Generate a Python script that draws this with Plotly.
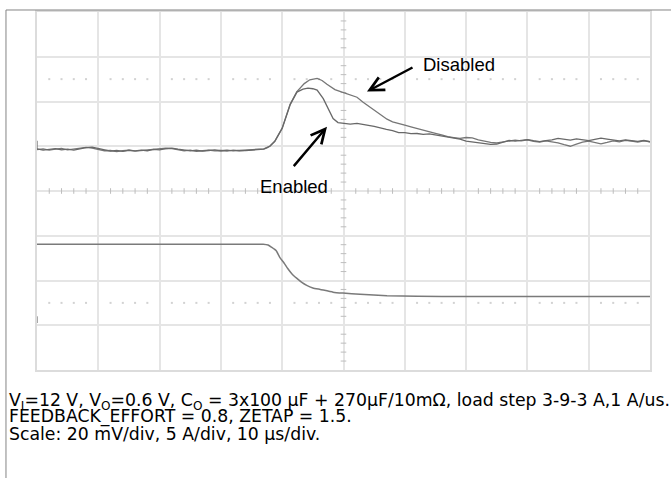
import plotly.graph_objects as go

# ---------------- data ----------------
# time in microseconds (10 us/div, trigger at centre), output deviation in mV (20 mV/div)
base_t = list(range(-50, -13))  # regular 1 us samples of the pre-step baseline
enabled_base = [0.3, -0.2, 0.1, 0.4, -0.1, 0.2, -0.2, 0.4, 0.9, 1.1, 0.5, -0.3, -0.7, -0.4, -0.8,
                -0.3, -0.6, -0.2, -0.5, 0.1, -0.1, 0.4, 0.7, 0.2, -0.3, -0.6, -0.3, -0.7, -0.4, -0.1,
                -0.5, -0.2, -0.6, -0.3, -0.4, -0.1, 0.0]
disabled_base = [0.0, 0.3, -0.2, 0.2, 0.5, -0.1, 0.3, 0.6, 1.0, 0.7, 0.2, -0.5, -0.4, -0.9, -0.5,
                 -0.2, -0.7, -0.4, -0.1, 0.2, 0.3, 0.6, 0.4, -0.1, -0.5, -0.2, -0.8, -0.5, -0.2, -0.6,
                 -0.4, -0.7, -0.2, -0.5, -0.2, 0.0, 0.2]

enabled_tr_t = [-13.0, -12.5, -12.0, -11.2, -10.0, -8.7, -7.6, -6.6, -5.8, -5.0, -4.3, -3.3, -2.5,
                -1.7, -0.9, 0.0, 1.1, 2.2, 3.2, 4.3, 5.0, 6.0, 7.0, 8.0, 9.0, 10.0, 11.0, 12.0, 13.0,
                14.0, 15.0, 16.0, 17.0, 18.0, 19.0, 20.0, 21.0, 22.0, 23.0, 24.0, 25.0, 26.0]
enabled_tr_v = [0.2, 0.8, 1.5, 3.7, 9.5, 20.1, 25.7, 27.0, 27.5, 27.2, 26.6, 22.8, 18.4,
                13.9, 12.1, 11.7, 11.4, 11.7, 11.1, 10.7, 10.4, 9.6, 9.0, 8.5, 7.6, 7.6, 7.1, 7.2, 6.8,
                7.0, 6.5, 6.1, 5.7, 5.0, 4.7, 3.8, 3.4, 2.9, 2.5, 2.3, 2.5, 3.2]

disabled_tr_t = [-13.0, -12.5, -12.0, -11.2, -10.0, -8.7, -7.6, -6.4, -5.5, -4.3, -3.5, -2.7, -1.4,
                 0.0, 1.1, 2.2, 3.2, 4.3, 5.0, 6.0, 7.1, 8.0, 9.0, 10.0, 11.0, 12.0, 13.0, 14.0,
                 15.0, 16.0, 17.0, 18.0, 19.0, 20.0, 21.0, 22.0, 23.0, 24.0, 25.0, 26.0]
disabled_tr_v = [0.3, 0.8, 1.6, 3.8, 9.6, 20.3, 25.9, 29.5, 31.2, 31.8, 30.9, 29.2, 26.8,
                 25.5, 24.4, 23.4, 21.2, 19.1, 18.0, 16.1, 13.6, 12.4, 11.5, 10.9, 10.2, 9.4, 8.8, 8.1,
                 7.3, 6.6, 5.8, 5.4, 5.0, 5.4, 5.2, 4.4, 3.7, 3.2, 3.0, 3.5]

tail_t = list(range(27, 51))  # regular 1 us samples of the settled tail
enabled_tail = [4.1, 3.8, 4.2, 4.5, 4.0, 3.6, 4.0, 4.3, 5.0, 4.6, 4.2, 4.8, 4.4, 4.0, 4.6, 5.1,
                4.7, 4.2, 3.9, 4.3, 4.0, 3.7, 4.1, 3.5]
disabled_tail = [3.8, 4.2, 3.9, 4.4, 3.7, 3.4, 3.9, 3.6, 3.0, 2.2, 1.5, 2.4, 3.3, 3.8, 3.1, 2.6,
                 3.2, 3.9, 3.5, 4.1, 3.8, 3.4, 3.9, 3.5]

# first-sample spike seen at the left edge of the voltage trace
start_spike_t = [-50, -50]
start_spike_v = [4.0, 0.0]

# load current in A (5 A/div): 9 A -> ~3 A step
current_t = [-50, -40, -30, -20, -14, -13.1, -12.3, -11.7, -11.0, -10.4, -9.7, -9.1, -8.4, -7.6,
             -6.8, -6.0, -5.0, -3.8, -1.7, -0.1, 2.7, 7.1, 12.0, 20, 30, 40, 50]
current_a = [9.0, 9.0, 9.0, 9.0, 9.0, 9.0, 8.9, 8.64, 8.28, 7.53, 6.89, 6.28, 5.67, 5.17,
             4.72, 4.39, 4.11, 3.94, 3.64, 3.53, 3.39, 3.24, 3.17, 3.15, 3.15, 3.15, 3.15]

caption_lines = [
    "V<sub>I</sub>=12 V, V<sub>O</sub>=0.6 V, C<sub>O</sub> = 3x100 µF + 270µF/10mΩ, load step 3-9-3 A,1 A/us.",
    "FEEDBACK_EFFORT = 0.8, ZETAP = 1.5.",
    "Scale: 20 mV/div, 5 A/div, 10 µs/div.",
]

# ---------------- scope scales ----------------
T_RANGE = [-50, 50]          # 10 divisions x 10 us
DIV_RANGE = [-4, 4]          # 8 vertical divisions
MV_RANGE = [-98.5, 61.5]     # 20 mV/div, trace offset
A_RANGE = [-5.06, 34.94]     # 5 A/div, trace offset

enabled_t = base_t + enabled_tr_t + tail_t
enabled_v = enabled_base + enabled_tr_v + enabled_tail
disabled_t = start_spike_t + base_t + disabled_tr_t + tail_t
disabled_v = start_spike_v + disabled_base + disabled_tr_v + disabled_tail

fig = go.Figure()

fig.add_trace(go.Scatter(x=disabled_t, y=disabled_v, yaxis="y2", mode="lines",
                         line=dict(color="#767676", width=1.3), name="Disabled"))
fig.add_trace(go.Scatter(x=enabled_t, y=enabled_v, yaxis="y2", mode="lines",
                         line=dict(color="#686868", width=1.3), name="Enabled"))
fig.add_trace(go.Scatter(x=current_t, y=current_a, yaxis="y3", mode="lines",
                         line=dict(color="#7a7a7a", width=1.5, shape="spline", smoothing=0.5),
                         name="Load current"))

# graticule decorations: minor ticks on centre cross and dotted rows at +/-2.5 div
minor_t = [m * 2 for m in range(-25, 26) if m % 5 != 0]
minor_d = [m * 0.2 for m in range(-20, 21) if m % 5 != 0]
fig.add_trace(go.Scatter(x=minor_t, y=[0] * len(minor_t), mode="markers", hoverinfo="skip",
                         marker=dict(symbol="line-ns", size=4, line=dict(color="#bdbdbd", width=1))))
fig.add_trace(go.Scatter(x=[0] * len(minor_d), y=minor_d, mode="markers", hoverinfo="skip",
                         marker=dict(symbol="line-ew", size=4, line=dict(color="#bdbdbd", width=1))))
fig.add_trace(go.Scatter(x=minor_t + minor_t, y=[2.5] * len(minor_t) + [-2.5] * len(minor_t),
                         mode="markers", hoverinfo="skip",
                         marker=dict(symbol="square", size=2, color="#d2d2d2")))

GRID = "#e5e5e5"
fig.update_layout(
    width=671, height=478,
    margin=dict(l=37, r=21, t=10, b=108),
    paper_bgcolor="white", plot_bgcolor="white",
    showlegend=False,
    font=dict(family="Liberation Sans, Arial, sans-serif", color="black"),
    xaxis=dict(range=T_RANGE, dtick=10, tick0=0, showgrid=True, gridcolor=GRID, gridwidth=1.5,
               zeroline=False, showticklabels=False, ticks="", showline=True, mirror=True,
               linecolor="#dcdcdc", linewidth=2),
    yaxis=dict(range=DIV_RANGE, dtick=1, tick0=0, showgrid=True, gridcolor=GRID, gridwidth=1.5,
               zeroline=False, showticklabels=False, ticks="", showline=True, mirror=True,
               linecolor="#dcdcdc", linewidth=2),
    yaxis2=dict(range=MV_RANGE, overlaying="y", visible=False),
    yaxis3=dict(range=A_RANGE, overlaying="y", visible=False),
)

# centre cross (dashed)
fig.add_shape(type="line", x0=0, x1=0, y0=DIV_RANGE[0], y1=DIV_RANGE[1], xref="x", yref="y",
              line=dict(color="#bcbcbc", width=1, dash="2px,2px"), layer="below")
fig.add_shape(type="line", x0=T_RANGE[0], x1=T_RANGE[1], y0=0, y1=0, xref="x", yref="y",
              line=dict(color="#d0d0d0", width=1), layer="below")
# small channel marker at the left edge of the current trace
fig.add_shape(type="line", x0=-50, x1=-50, y0=-2.95, y1=-2.8, xref="x", yref="y",
              line=dict(color="#555555", width=1))

# outer frame
fig.add_shape(type="rect", xref="paper", yref="paper", x0=-0.0506, x1=1.04, y0=-0.31, y1=1.0056,
              line=dict(color="#858585", width=1))

# labels and arrows
fig.add_annotation(x=18.8, y=2.82, xref="x", yref="y", text="Disabled", showarrow=False,
                   font=dict(size=18.5))
fig.add_annotation(x=-8.0, y=0.09, xref="x", yref="y", text="Enabled", showarrow=False,
                   font=dict(size=18.5))
fig.add_annotation(x=3.83, y=2.222, ax=11.5, ay=2.778, xref="x", yref="y", axref="x", ayref="y",
                   text="", showarrow=True, arrowhead=5, arrowsize=1.15, arrowwidth=2.4,
                   arrowcolor="black", standoff=0)
fig.add_annotation(x=-2.69, y=1.433, ax=-8.32, ay=0.522, xref="x", yref="y", axref="x", ayref="y",
                   text="", showarrow=True, arrowhead=5, arrowsize=1.15, arrowwidth=2.4,
                   arrowcolor="black", standoff=0)

# caption
cap_y = [-0.0889, -0.1306, -0.1778]
for txt, yy in zip(caption_lines, cap_y):
    fig.add_annotation(x=-0.0490, y=yy, xref="paper", yref="paper", text=txt, showarrow=False,
                       xanchor="left", yanchor="middle", align="left",
                       font=dict(size=17.3, family="DejaVu Sans"))

fig.write_html("out.html", config={"displayModeBar": False},
               post_script="document.body.style.margin='0px';")
